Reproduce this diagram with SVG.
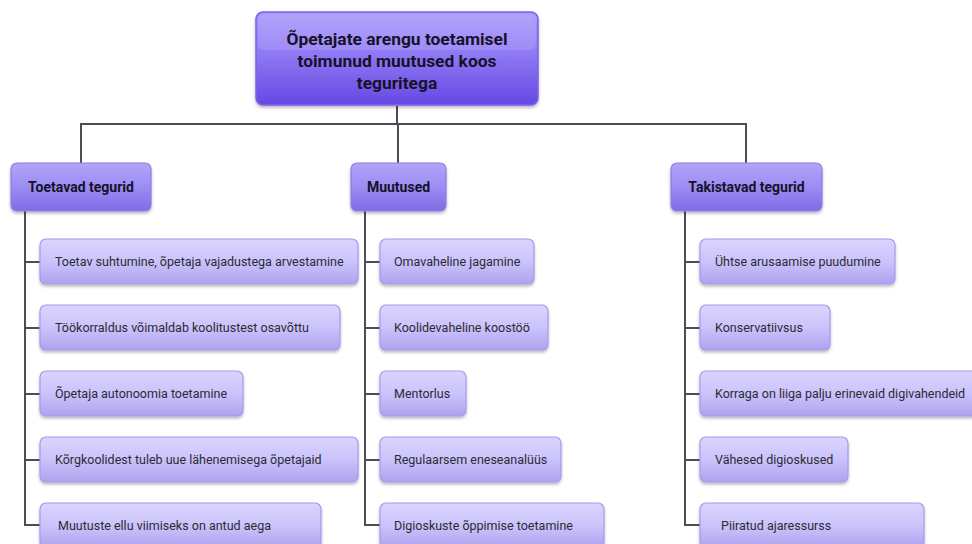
<svg xmlns="http://www.w3.org/2000/svg" width="972" height="544" viewBox="0 0 972 544">
<defs>
<linearGradient id="gRoot" x1="0" y1="0" x2="0" y2="1">
<stop offset="0" stop-color="#a897fb"/>
<stop offset="0.45" stop-color="#8f79f4"/>
<stop offset="1" stop-color="#6548e2"/>
</linearGradient>
<linearGradient id="gCat" x1="0" y1="0" x2="0" y2="1">
<stop offset="0" stop-color="#b1a5fa"/>
<stop offset="0.5" stop-color="#9c8cf3"/>
<stop offset="1" stop-color="#7f6ce4"/>
</linearGradient>
<linearGradient id="gItem" x1="0" y1="0" x2="0" y2="1">
<stop offset="0" stop-color="#dad5fe"/>
<stop offset="0.5" stop-color="#cbc3fb"/>
<stop offset="1" stop-color="#aea2ee"/>
</linearGradient>
<filter id="sh" x="-10%" y="-20%" width="120%" height="150%">
<feDropShadow dx="0" dy="2" stdDeviation="1.5" flood-color="#000" flood-opacity="0.28"/>
</filter>
</defs>
<style>
.root{fill:url(#gRoot);stroke:#7a62ee;stroke-width:1.5;filter:url(#sh)}
.cat{fill:url(#gCat);stroke:#8c7cec;stroke-width:1.2;filter:url(#sh)}
.item{fill:url(#gItem);stroke:#a699ee;stroke-width:1.2;filter:url(#sh)}
.gloss{fill:#ffffff;opacity:0.12}
.rt{font-family:Roboto,"Liberation Sans",sans-serif;font-weight:bold;font-size:17.4px;fill:#15122a;text-anchor:middle}
.ct{font-family:Roboto,"Liberation Sans",sans-serif;font-weight:bold;font-size:14px;fill:#15122a;text-anchor:middle}
.it{font-family:Roboto,"Liberation Sans",sans-serif;font-size:12.5px;fill:#2b2b33}
.ln{fill:none;stroke:#4b4e57;stroke-width:2}
</style>
<g id="connectors">
<path class="ln" d="M397 106 V124 M81 163 V124 H746 V163 M398 124 V163"/>
<path class="ln" d="M25 211 V525 H40 M25 262 H40 M25 328 H40 M25 394 H40 M25 460 H40"/>
<path class="ln" d="M365 211 V525 H380 M365 262 H380 M365 328 H380 M365 394 H380 M365 460 H380"/>
<path class="ln" d="M685 211 V525 H700 M685 262 H700 M685 328 H700 M685 394 H700 M685 460 H700"/>
</g>
<g id="root">
<rect class="root" x="256" y="12" width="282" height="93" rx="7"/>
<rect class="gloss" x="258" y="14" width="278" height="36" rx="6"/>
<text class="rt" x="397" y="45">Õpetajate arengu toetamisel</text>
<text class="rt" x="397" y="67">toimunud muutused koos</text>
<text class="rt" x="397" y="89">teguritega</text>
</g>
<g id="cat1">
<rect class="cat" x="11" y="163" width="140" height="48" rx="6"/>
<text class="ct" x="81" y="192">Toetavad tegurid</text>
</g>
<g id="cat2">
<rect class="cat" x="351" y="163" width="95" height="48" rx="6"/>
<text class="ct" x="398.5" y="192">Muutused</text>
</g>
<g id="cat3">
<rect class="cat" x="671" y="163" width="151" height="48" rx="6"/>
<text class="ct" x="746.5" y="192">Takistavad tegurid</text>
</g>
<g id="t1"><rect class="item" x="40" y="239" width="318" height="45" rx="6"/><text class="it" x="55" y="266">Toetav suhtumine, õpetaja vajadustega arvestamine</text></g>
<g id="t2"><rect class="item" x="40" y="305" width="300" height="45" rx="6"/><text class="it" x="55" y="332">Töökorraldus võimaldab koolitustest osavõttu</text></g>
<g id="t3"><rect class="item" x="40" y="371" width="203" height="45" rx="6"/><text class="it" x="55" y="398">Õpetaja autonoomia toetamine</text></g>
<g id="t4"><rect class="item" x="40" y="437" width="318" height="45" rx="6"/><text class="it" x="55" y="464">Kõrgkoolidest tuleb uue lähenemisega õpetajaid</text></g>
<g id="t5"><rect class="item" x="40" y="503" width="281" height="45" rx="6"/><text class="it" x="58" y="530">Muutuste ellu viimiseks on antud aega</text></g>
<g id="m1"><rect class="item" x="380" y="239" width="154" height="45" rx="6"/><text class="it" x="394" y="266">Omavaheline jagamine</text></g>
<g id="m2"><rect class="item" x="380" y="305" width="168" height="45" rx="6"/><text class="it" x="394" y="332">Koolidevaheline koostöö</text></g>
<g id="m3"><rect class="item" x="380" y="371" width="86" height="45" rx="6"/><text class="it" x="394" y="398">Mentorlus</text></g>
<g id="m4"><rect class="item" x="380" y="437" width="181" height="45" rx="6"/><text class="it" x="394" y="464">Regulaarsem eneseanalüüs</text></g>
<g id="m5"><rect class="item" x="380" y="503" width="224" height="45" rx="6"/><text class="it" x="394" y="530">Digioskuste õppimise toetamine</text></g>
<g id="k1"><rect class="item" x="700" y="239" width="195" height="45" rx="6"/><text class="it" x="715" y="266">Ühtse arusaamise puudumine</text></g>
<g id="k2"><rect class="item" x="700" y="305" width="130" height="45" rx="6"/><text class="it" x="715" y="332">Konservatiivsus</text></g>
<g id="k3"><rect class="item" x="700" y="371" width="280" height="45" rx="6"/><text class="it" x="715" y="398">Korraga on liiga palju erinevaid digivahendeid</text></g>
<g id="k4"><rect class="item" x="700" y="437" width="148" height="45" rx="6"/><text class="it" x="715" y="464">Vähesed digioskused</text></g>
<g id="k5"><rect class="item" x="700" y="503" width="224" height="45" rx="6"/><text class="it" x="721" y="530">Piiratud ajaressurss</text></g>
</svg>
